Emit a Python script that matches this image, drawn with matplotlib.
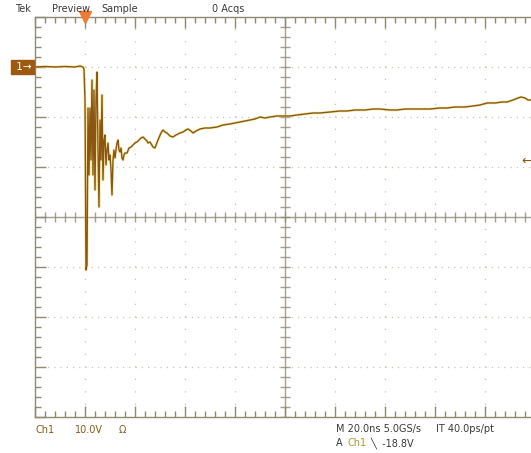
import matplotlib
matplotlib.use("Agg")
import matplotlib.pyplot as plt
import numpy as np

# scope settings: 20 ns/div horizontally, 10 V/div vertically
time_per_div = 20.0
volts_per_div = 10.0
n_xdiv = 10
y_top = 10.0
y_bottom = -70.0
trigger_time = 20.0
trigger_level = -18.8

# captured Ch1 trace: (time in ns from left edge, voltage in V)
trace_points = [
    (0.0, 0.0), (4.0, 0.1), (8.0, 0.0), (12.0, 0.1), (16.0, 0.0), (18.0, 0.2),
    (19.2, 0.0), (19.6, -0.4), (20.0, -6.6), (20.4, -40.6), (20.8, -39.6),
    (21.2, -8.2), (21.6, -21.6), (22.0, -8.2), (22.4, -18.6), (22.8, -2.6),
    (23.2, -21.6), (23.6, -4.6), (24.0, -24.6), (24.4, -6.6), (24.8, -1.0),
    (25.2, -16.6), (25.6, -28.0), (26.0, -10.6), (26.4, -18.6), (26.8, -5.6),
    (27.2, -22.6), (27.6, -14.6), (28.0, -13.6), (28.4, -19.6), (28.8, -16.6),
    (29.2, -15.2), (29.6, -18.6), (30.0, -17.6), (30.4, -20.6), (30.8, -25.6),
    (31.2, -18.6), (31.6, -16.6), (32.0, -18.2), (32.4, -16.6), (32.8, -15.2),
    (33.2, -14.6), (33.6, -16.6), (34.0, -17.0), (34.4, -16.2), (34.8, -18.2),
    (35.2, -18.6), (35.6, -17.6), (36.0, -17.2), (36.8, -17.2), (37.6, -16.2),
    (38.4, -16.0), (39.2, -15.6), (40.0, -15.2), (40.8, -15.0), (41.6, -14.6),
    (42.4, -14.2), (43.2, -14.0), (44.0, -14.4), (44.8, -14.8), (45.2, -15.2),
    (46.0, -15.0), (47.2, -16.0), (48.0, -16.2), (49.2, -14.6), (50.4, -13.2),
    (51.2, -12.6), (52.0, -13.0), (52.8, -13.2), (54.0, -13.8), (55.2, -14.0),
    (56.4, -13.6), (58.0, -13.2), (59.2, -13.0), (60.4, -12.6), (61.2, -12.4),
    (62.4, -12.8), (63.2, -13.2), (64.4, -12.8), (66.0, -12.4), (68.0, -12.2),
    (70.0, -12.2), (72.8, -12.0), (75.2, -11.6), (78.0, -11.4), (80.0, -11.2),
    (82.0, -11.0), (84.0, -10.8), (86.0, -10.6), (88.0, -10.4), (90.0, -10.0),
    (92.0, -10.2), (94.0, -10.0), (96.8, -9.8), (99.2, -9.8), (102.0, -9.8),
    (104.8, -9.6), (108.0, -9.4), (111.2, -9.2), (114.0, -9.2), (118.0, -9.0),
    (122.0, -8.8), (124.8, -8.8), (128.0, -8.6), (132.0, -8.6), (135.2, -8.4),
    (138.0, -8.4), (142.0, -8.6), (144.8, -8.6), (148.0, -8.4), (152.0, -8.4),
    (156.0, -8.4), (158.0, -8.4), (162.0, -8.2), (164.8, -8.2), (168.0, -8.0),
    (172.0, -8.0), (175.2, -7.8), (178.0, -7.6), (180.8, -7.2), (184.0, -7.2),
    (186.8, -7.0), (188.8, -7.0), (191.2, -6.6), (193.2, -6.2), (194.4, -6.0),
    (196.0, -6.2), (197.2, -6.6), (198.4, -6.6),
]
trace_time = [p[0] for p in trace_points]
trace_volts = [p[1] for p in trace_points]

grid_col = "#c8c4b2"
frame_col = "#8e8a74"
trace_col = "#8a5612"
text_col = "#8a5a1c"
dark_col = "#3a3a3a"

W, H = 531, 453
fig = plt.figure(figsize=(W / 100, H / 100), dpi=100)
fig.patch.set_facecolor("white")

# plot area in pixels: x 35..535 (cut off at right), y 17..417
L, T, R, B = 35, 17, 535, 417
ax = fig.add_axes([L / W, 1 - B / H, (R - L) / W, (B - T) / H])
ax.set_xlim(0, time_per_div * n_xdiv)
ax.set_ylim(y_bottom, y_top)
ax.set_facecolor("white")

xdiv = np.arange(0, time_per_div * n_xdiv + 0.1, time_per_div)
ydiv = np.arange(y_bottom, y_top + 0.1, volts_per_div)
x_mid = time_per_div * n_xdiv / 2
y_mid = (y_top + y_bottom) / 2

# dotted graticule
for xv in xdiv[1:-1]:
    if xv != x_mid:
        ax.axvline(xv, color=grid_col, lw=0.9, ls=(0, (1, 9)), zorder=1)
for yv in ydiv[1:-1]:
    if yv != y_mid:
        ax.axhline(yv, color=grid_col, lw=0.9, ls=(0, (1, 4)), zorder=1)

# center crosshair with minor ticks
ax.axvline(x_mid, color=frame_col, lw=1.0, alpha=0.8, zorder=1)
ax.axhline(y_mid, color=frame_col, lw=1.0, alpha=0.8, zorder=1)
xminor = np.arange(0, time_per_div * n_xdiv + 0.1, time_per_div / 5)
yminor = np.arange(y_bottom, y_top + 0.1, volts_per_div / 5)
ax.plot(xminor, np.full_like(xminor, y_mid), ls="none", marker="|", ms=7,
        mew=1.0, color=frame_col, alpha=0.8, zorder=1)
ax.plot(np.full_like(yminor, x_mid), yminor, ls="none", marker="_", ms=7,
        mew=1.0, color=frame_col, alpha=0.8, zorder=1)

# frame ticks
for s in ["left", "bottom", "top"]:
    ax.spines[s].set_color(frame_col)
    ax.spines[s].set_linewidth(1.0)
ax.spines["right"].set_visible(False)
ax.set_xticks(xdiv)
ax.set_yticks(ydiv)
ax.set_xticks(xminor, minor=True)
ax.set_yticks(yminor, minor=True)
ax.tick_params(which="both", direction="in", colors=frame_col, labelleft=False,
               labelbottom=False, top=True, width=1.0)
ax.tick_params(which="major", length=8)
ax.tick_params(which="minor", length=4)

# trace
ax.plot(trace_time, trace_volts, color="#e8e070", lw=2.0, alpha=0.6, zorder=3,
        solid_joinstyle="round")
ax.plot(trace_time, trace_volts, color=trace_col, lw=1.0, zorder=4,
        solid_joinstyle="round")

# trigger position marker
ax.plot([trigger_time], [y_top], marker="v", ms=8, color="#f07a30",
        clip_on=False, zorder=5)

# channel ground marker
fig.text(13 / W, 1 - 67 / H, " 1\u2192", color="white", fontsize=7.5,
         va="center", ha="left",
         bbox=dict(boxstyle="square,pad=0.2", fc="#9c5a10", ec="#9c5a10"))
# trigger level marker
fig.text(521 / W, 1 - (67 + (0 - trigger_level) / volts_per_div * 50) / H,
         "\u2190", color=trace_col, fontsize=9, va="center", ha="left")

# top status line
fs = 7
fig.text(15 / W, 1 - 9 / H, "Tek", fontsize=fs, color=dark_col, va="center")
fig.text(52 / W, 1 - 9 / H, "Preview", fontsize=fs, color=dark_col, va="center")
fig.text(101 / W, 1 - 9 / H, "Sample", fontsize=fs, color=dark_col, va="center")
fig.text(212 / W, 1 - 9 / H, "0 Acqs", fontsize=fs, color=dark_col, va="center")

# bottom readouts
fig.text(35 / W, 1 - 430 / H, "Ch1", fontsize=fs, color=text_col, va="center")
fig.text(75 / W, 1 - 430 / H, "10.0V", fontsize=fs, color=text_col, va="center")
fig.text(119 / W, 1 - 430 / H, "\u03a9", fontsize=fs, color=text_col, va="center")
fig.text(336 / W, 1 - 429 / H, "M 20.0ns 5.0GS/s", fontsize=fs, color=dark_col,
         va="center")
fig.text(436 / W, 1 - 429 / H, "IT 40.0ps/pt", fontsize=fs, color=dark_col,
         va="center")
fig.text(336 / W, 1 - 443 / H, "A", fontsize=fs, color=dark_col, va="center")
fig.text(348 / W, 1 - 443 / H, "Ch1", fontsize=fs, color="#a89a30", va="center")
fig.text(370 / W, 1 - 443 / H, "\u2572  -18.8V", fontsize=fs, color=dark_col,
         va="center")

fig.savefig("out.png", dpi=100, facecolor="white")
